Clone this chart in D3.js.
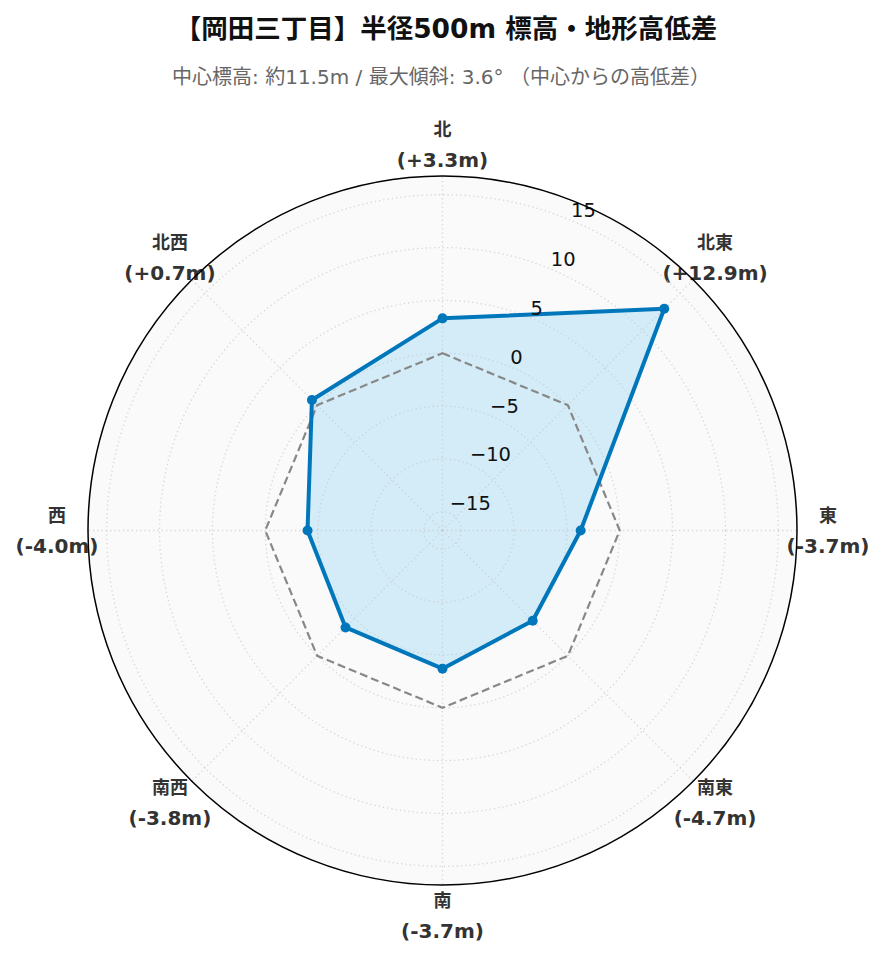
<!DOCTYPE html>
<html><head><meta charset="utf-8">
<script src="https://cdn.jsdelivr.net/npm/d3@7"></script>
<style>body{margin:0;background:#fff;} svg{display:block;}</style>
</head><body>
<svg id="chart" width="885" height="962"></svg>
<script>
const directions = ["北","北東","東","南東","南","南西","西","北西"];
const diffs = [3.3, 12.9, -3.7, -4.7, -3.7, -3.8, -4.0, 0.7];
const diffLabels = ["(+3.3m)","(+12.9m)","(-3.7m)","(-4.7m)","(-3.7m)","(-3.8m)","(-4.0m)","(+0.7m)"];
const radialTicks = [-15, -10, -5, 0, 5, 10, 15];
const baseline = [0, 0, 0, 0, 0, 0, 0, 0];
const title = "【岡田三丁目】半径500m 標高・地形高低差";
const subtitle = "中心標高: 約11.5m / 最大傾斜: 3.6° （中心からの高低差）";

const svg = d3.select("#chart");
const cx = 442.5, cy = 530.5, R = 354.5;
const maxAbs = d3.max(diffs, d => Math.abs(d)) * 1.3;
const r = d3.scaleLinear().domain([-maxAbs, maxAbs]).range([0, R]);
const ang = d3.scaleLinear().domain([0, directions.length]).range([0, 2 * Math.PI]);
const font = "'DejaVu Sans','Noto Sans CJK JP',sans-serif";

svg.append("text").attr("x", 446).attr("y", 38).attr("text-anchor", "middle")
  .style("font-family", font).style("font-weight", "bold").style("font-size", "26.5px")
  .attr("fill", "#111").text(title);
svg.append("text").attr("x", 441).attr("y", 84).attr("text-anchor", "middle")
  .style("font-family", font).style("font-size", "20px")
  .attr("fill", "#666").text(subtitle);

const g = svg.append("g").attr("transform", `translate(${cx},${cy})`);

// background
g.append("circle").attr("r", R).attr("fill", "#fafafa");

// angular labels
directions.forEach((d, i) => {
  const a = ang(i);
  const lx = 385.5 * Math.sin(a), ly = -385.5 * Math.cos(a);
  const t = g.append("text").attr("text-anchor", "middle")
    .style("font-family", font).style("font-weight", "bold").style("font-size", "20px")
    .attr("fill", "#333");
  t.append("tspan").attr("x", lx).attr("y", ly - 15).attr("dy", "0.35em").style("font-size", "18px").text(d);
  t.append("tspan").attr("x", lx).attr("y", ly + 15).attr("dy", "0.35em").text(diffLabels[i]);
});

// data area
const line = d3.lineRadial().angle((d, i) => ang(i)).radius(d => r(d)).curve(d3.curveLinearClosed);
g.append("path").datum(diffs).attr("d", line).attr("fill", "#d3ecf8").attr("stroke", "none");

// grid
const grid = g.append("g");
radialTicks.forEach(v => {
  grid.append("circle").attr("r", r(v)).attr("fill", "none")
    .attr("stroke", "#c8c8c8").attr("stroke-opacity", 0.7).attr("stroke-width", 1.3).attr("stroke-dasharray", "1.3,3");
});
directions.forEach((d, i) => {
  const a = ang(i);
  grid.append("line").attr("x1", 0).attr("y1", 0)
    .attr("x2", R * Math.sin(a)).attr("y2", -R * Math.cos(a))
    .attr("stroke", "#c8c8c8").attr("stroke-opacity", 0.7).attr("stroke-width", 1.3).attr("stroke-dasharray", "1.3,3");
});

// baseline dashed
g.append("path").datum(baseline).attr("d", line).attr("fill", "none")
  .attr("stroke", "#888").attr("stroke-width", 2.2).attr("stroke-dasharray", "8,4");

// data line
g.append("path").datum(diffs).attr("d", line).attr("fill", "none")
  .attr("stroke", "#0077bb").attr("stroke-width", 4).attr("stroke-linejoin", "round");
g.selectAll("circle.pt").data(diffs).enter().append("circle").attr("class", "pt")
  .attr("cx", (d, i) => r(d) * Math.sin(ang(i))).attr("cy", (d, i) => -r(d) * Math.cos(ang(i)))
  .attr("r", 5).attr("fill", "#0077bb");

// radial tick labels
const ra = Math.PI / 8;
radialTicks.forEach(v => {
  g.append("text").attr("x", r(v) * Math.sin(ra)).attr("y", -r(v) * Math.cos(ra) - 3)
    .style("font-family", font).style("font-size", "19.5px").attr("fill", "#111")
    .text(v < 0 ? "\u2212" + Math.abs(v) : String(v));
});

// outer circle
g.append("circle").attr("r", R).attr("fill", "none").attr("stroke", "#000").attr("stroke-width", 1.5);
</script>
</body></html>
